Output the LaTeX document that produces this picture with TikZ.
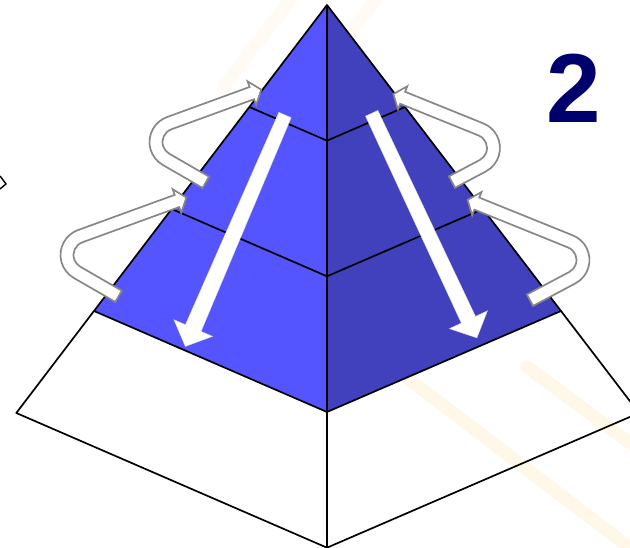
\documentclass[tikz,border=0pt]{standalone}
\usepackage{fontspec}
\newfontfamily\arialfont{Liberation Sans}
\definecolor{faceL}{RGB}{85,85,255}
\definecolor{faceR}{RGB}{65,65,190}
\definecolor{navytxt}{RGB}{0,0,108}
\definecolor{ugray}{RGB}{135,135,135}
\definecolor{wmark}{RGB}{255,228,180}
\tikzset{
  edge/.style={draw=black, line width=1.7pt, line join=round},
  uarrow/.style={fill=white, draw=ugray, line width=1.7pt},
  facearrow/.style={fill=white, draw=white!85!black, line width=0.4pt},
  wm/.style={draw=wmark, line width=13pt, line cap=round, opacity=0.3}
}
\newcommand{\Uarr}[6]{%
  \begin{scope}[shift={(#1,#2)}, xscale=#3, rotate=#4]
    \filldraw[uarrow] (220:26.5) arc[start angle=220,end angle=90,radius=26.5pt]
      -- (#6,26.5) -- (#6,32.5) -- (#6+10,20) -- (#6,7.5) -- (#6,13.5) -- (0,13.5)
      arc[start angle=90,end angle=220,radius=13.5pt]
      -- ++(130:-#5) -- ++(220:13) -- cycle;
  \end{scope}}
\begin{document}
\begin{tikzpicture}[x=1pt,y=1pt]
  \useasboundingbox (0,0) rectangle (630,548);
  \clip (0,0) rectangle (630,548);
  % faint watermark
  \draw[wm] (410,168) -- (630,0);
  \draw[wm] (527,181) -- (630,105);
  \draw[wm, opacity=0.15] (225,463) -- (290,548);
  \draw[wm, opacity=0.15] (345,508) -- (375,548);
  % pyramid corners
  \coordinate (P) at (327,543);
  \coordinate (L1) at (249.3,441); \coordinate (C1) at (327,407.3); \coordinate (R1) at (405,441);
  \coordinate (L2) at (171.7,339); \coordinate (C2) at (327,271.7); \coordinate (R2) at (483,339);
  \coordinate (L3) at (94,237);    \coordinate (C3) at (327,136);   \coordinate (R3) at (561,237);
  \coordinate (L4) at (16.3,135);  \coordinate (C4) at (327,0.3);   \coordinate (R4) at (639,135);
  % faces
  \fill[faceL] (P) -- (L3) -- (C3) -- cycle;
  \fill[faceR] (P) -- (C3) -- (R3) -- cycle;
  \draw[edge] (L3) -- (L4) -- (C4) -- (R4) -- (R3);
  \draw[edge] (P) -- (L3) -- (C3) -- (R3) -- cycle;
  \draw[edge] (P) -- (C4);
  \draw[edge] (L1) -- (C1) -- (R1);
  \draw[edge] (L2) -- (C2) -- (R2);
  % straight white arrows on the faces
  \begin{scope}[shift={(285,433)}, rotate=-113.3]
    \filldraw[facearrow] (0,6.7) -- (232,8.5) -- (232,21) -- (252,0) -- (232,-21) -- (232,-8.5) -- (0,-6.7) -- cycle;
  \end{scope}
  \begin{scope}[shift={(371.7,434.7)}, rotate=-64.9]
    \filldraw[facearrow] (0,6.8) -- (228,7.8) -- (228,21) -- (248,0) -- (228,-21) -- (228,-7.8) -- (0,-6.8) -- cycle;
  \end{scope}
  % U-shaped feedback arrows
  \Uarr{176}{406}{1}{20}{46}{88}
  \Uarr{87}{293}{1}{20}{48}{103}
  \Uarr{473.5}{400}{-1}{22}{35}{84.5}
  \Uarr{563}{288}{-1}{22}{48}{101}
  % number
  \node[font=\arialfont\bfseries\fontsize{98}{98}\selectfont, text=navytxt, inner sep=0pt, anchor=base] (two) at (573.5,425) {2};
  % cut-off mark at the left edge
  \draw[black, line width=1.4pt] (0,372) -- (6,364) -- (0,359);
\end{tikzpicture}
\end{document}
